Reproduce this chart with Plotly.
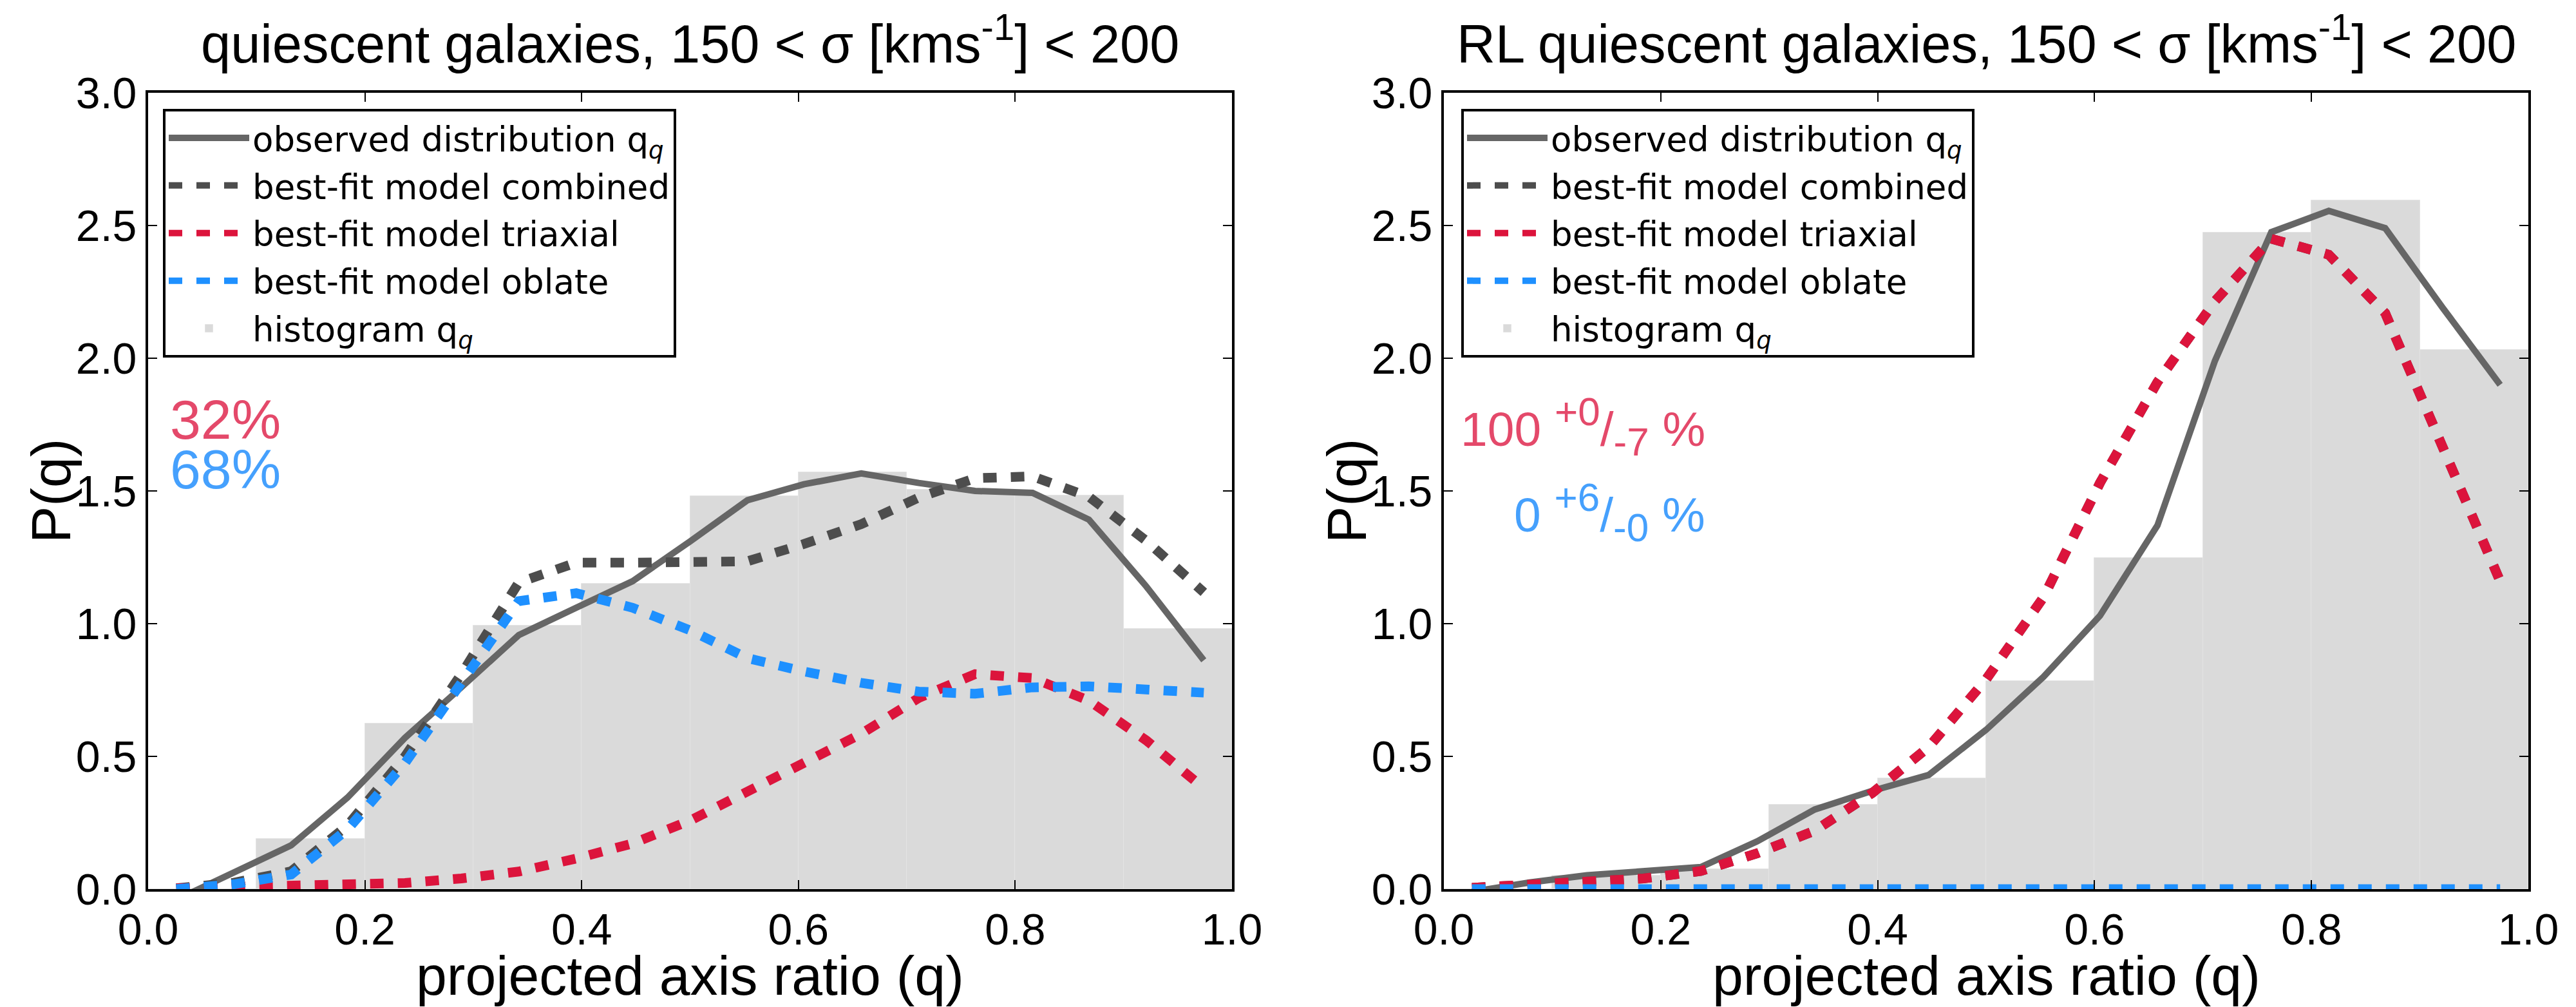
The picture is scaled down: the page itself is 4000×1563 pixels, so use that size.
import plotly.graph_objects as go

# ---------------- data ----------------
q_grid = [0.026, 0.079, 0.132, 0.184, 0.237, 0.289, 0.342, 0.395, 0.447, 0.500,
          0.553, 0.605, 0.658, 0.711, 0.763, 0.816, 0.868, 0.921, 0.974]
bin_centers = [0.05, 0.15, 0.25, 0.35, 0.45, 0.55, 0.65, 0.75, 0.85, 0.95]
bin_width = 0.1

# left panel: quiescent galaxies
hist_left = [0.0, 0.19, 0.625, 0.993, 1.15, 1.48, 1.57, 1.505, 1.483, 0.981]
obs_left = [-0.04, 0.06, 0.165, 0.345, 0.57, 0.76, 0.957, 1.06, 1.16, 1.31,
            1.465, 1.525, 1.566, 1.53, 1.50, 1.493, 1.392, 1.14, 0.862]
comb_left = [0.003, 0.024, 0.067, 0.24, 0.50, 0.81, 1.155, 1.23, 1.23, 1.233,
             1.235, 1.30, 1.375, 1.475, 1.548, 1.555, 1.478, 1.312, 1.118]
tri_left = [0.003, 0.006, 0.012, 0.016, 0.023, 0.04, 0.066, 0.115, 0.172, 0.258,
            0.365, 0.47, 0.585, 0.72, 0.81, 0.795, 0.71, 0.56, 0.38]
obl_left = [0.0, 0.018, 0.055, 0.225, 0.475, 0.77, 1.085, 1.115, 1.06, 0.975,
            0.87, 0.82, 0.777, 0.744, 0.736, 0.76, 0.764, 0.752, 0.74]

# right panel: RL quiescent galaxies
hist_right = [0.0, 0.05, 0.075, 0.319, 0.417, 0.783, 1.248, 2.473, 2.595, 2.031]
obs_right = [-0.01, 0.025, 0.052, 0.066, 0.083, 0.18, 0.30, 0.37, 0.43, 0.60,
             0.80, 1.03, 1.37, 1.99, 2.475, 2.555, 2.49, 2.19, 1.90]
tri_right = [0.005, 0.015, 0.025, 0.04, 0.068, 0.135, 0.22, 0.362, 0.535, 0.79,
             1.10, 1.53, 1.91, 2.215, 2.45, 2.39, 2.17, 1.675, 1.16]
comb_right = [0.005, 0.015, 0.025, 0.04, 0.068, 0.135, 0.22, 0.362, 0.535, 0.79,
              1.10, 1.53, 1.91, 2.215, 2.45, 2.39, 2.17, 1.675, 1.16]
obl_right = [0.0, 0.0, 0.0, 0.0, 0.0, 0.0, 0.0, 0.0, 0.0, 0.0,
             0.0, 0.0, 0.0, 0.0, 0.0, 0.0, 0.0, 0.0, 0.0]

titles = ["quiescent galaxies, 150 &lt; σ [kms<sup>-1</sup>] &lt; 200",
          "RL quiescent galaxies, 150 &lt; σ [kms<sup>-1</sup>] &lt; 200"]
names = ["observed distribution q<sub><i>q</i></sub>", "best-fit model combined",
         "best-fit model triaxial", "best-fit model oblate", "histogram q<sub><i>q</i></sub>"]
x_ticks = [0.0, 0.2, 0.4, 0.6, 0.8, 1.0]
y_ticks = [0.0, 0.5, 1.0, 1.5, 2.0, 2.5, 3.0]

# ---------------- styling ----------------
W, H = 4000, 1563
C_OBS = "#666666"
C_COMB = "#4d4d4d"
C_TRI = "#DC143C"
C_OBL = "#1E90FF"
C_HIST = "#dadada"
DASH = "21px,22px"
FONT = "Liberation Sans"

fig = go.Figure()

panels = [
    (hist_left, obs_left, comb_left, tri_left, obl_left, "x", "y", "legend"),
    (hist_right, obs_right, comb_right, tri_right, obl_right, "x2", "y2", "legend2"),
]
for k, (hist, obs, comb, tri, obl, xa, ya, lg) in enumerate(panels):
    fig.add_trace(go.Scatter(x=q_grid, y=obs, mode="lines", name=names[0],
                             line=dict(color=C_OBS, width=10), xaxis=xa, yaxis=ya,
                             legend=lg, legendgroup=f"g0{k}"))
    fig.add_trace(go.Scatter(x=q_grid, y=comb, mode="lines", name=names[1],
                             line=dict(color=C_COMB, width=15, dash=DASH), xaxis=xa, yaxis=ya,
                             legend=lg, legendgroup=f"g1{k}"))
    fig.add_trace(go.Scatter(x=q_grid, y=tri, mode="lines", name=names[2],
                             line=dict(color=C_TRI, width=15, dash=DASH), xaxis=xa, yaxis=ya,
                             legend=lg, legendgroup=f"g2{k}"))
    fig.add_trace(go.Scatter(x=q_grid, y=obl, mode="lines", name=names[3],
                             line=dict(color=C_OBL, width=15, dash=DASH), xaxis=xa, yaxis=ya,
                             legend=lg, legendgroup=f"g3{k}"))
    fig.add_trace(go.Bar(x=bin_centers, y=hist, width=bin_width, name=names[4],
                         marker=dict(color=C_HIST, line=dict(color="#e4e4e4", width=1)),
                         xaxis=xa, yaxis=ya, legend=lg, legendgroup=f"g4{k}"))

ydom = [183 / H, 1419 / H]
xdoms = [[230 / W, 1913 / W], [2242 / W, 3926 / W]]

axis_common = dict(showline=True, linecolor="black", linewidth=4, mirror="allticks",
                   ticks="inside", ticklen=14, tickwidth=2, tickcolor="black",
                   showgrid=False, zeroline=False, automargin=False,
                   tickfont=dict(family=FONT, size=68, color="black"))

layout = dict(
    template="none",
    width=W, height=H, margin=dict(l=0, r=0, t=0, b=0, autoexpand=False),
    paper_bgcolor="white", plot_bgcolor="white", showlegend=True, bargap=0,
    font=dict(family=FONT, color="black"),
)
for i, (xd, suffix) in enumerate(zip(xdoms, ["", "2"])):
    layout["xaxis" + suffix] = dict(
        domain=xd, range=[0, 1], tickvals=x_ticks, ticktext=[f"{v:.1f}" for v in x_ticks],
        anchor="y" + suffix, **axis_common)
    layout["yaxis" + suffix] = dict(
        domain=ydom, range=[0, 3], tickvals=y_ticks, ticktext=[f"{v:.1f}" for v in y_ticks],
        anchor="x" + suffix, **axis_common)

legend_common = dict(xanchor="left", yanchor="top", bordercolor="black", borderwidth=4,
                     bgcolor="white", font=dict(family="DejaVu Sans", size=53, color="black"),
                     tracegroupgap=2, itemwidth=125, traceorder="grouped")
layout["legend"] = dict(x=253 / W, y=1 - 169 / H, **legend_common)
layout["legend2"] = dict(x=2269 / W, y=1 - 169 / H, **legend_common)

fig.update_layout(**layout)

annots = []
for xd, t in zip(xdoms, titles):
    annots.append(dict(text=t, x=(xd[0] + xd[1]) / 2, y=1 - 62 / H, xref="paper", yref="paper",
                       xanchor="center", yanchor="middle", showarrow=False,
                       font=dict(family=FONT, size=83, color="black")))
    # y-axis title
    annots.append(dict(text="P(q)", x=(xd[0] * W - 151) / W, y=(ydom[0] + ydom[1]) / 2,
                       xref="paper", yref="paper", xanchor="center", yanchor="middle",
                       textangle=-90, showarrow=False,
                       font=dict(family=FONT, size=86, color="black")))
    # x-axis title
    annots.append(dict(text="projected axis ratio (q)", x=(xd[0] + xd[1]) / 2, y=1 - 1514 / H,
                       xref="paper", yref="paper", xanchor="center", yanchor="middle",
                       showarrow=False, font=dict(family=FONT, size=86, color="black")))

RED_T = "#e4496a"
BLUE_T = "#45a0fd"
annots.append(dict(text="32%", x=262 / W, y=1 - 651 / H, xref="paper", yref="paper",
                   xanchor="left", yanchor="middle", showarrow=False,
                   font=dict(family=FONT, size=86, color=RED_T)))
annots.append(dict(text="68%", x=262 / W, y=1 - 728 / H, xref="paper", yref="paper",
                   xanchor="left", yanchor="middle", showarrow=False,
                   font=dict(family=FONT, size=86, color=BLUE_T)))
annots.append(dict(text='100 <sup><span style="font-size:62px">+0</span></sup>/'
                        '<sub><span style="font-size:62px">-7</span></sub> %',
                   x=2650 / W, y=1 - 662 / H,
                   xref="paper", yref="paper", xanchor="right", yanchor="middle", showarrow=False,
                   font=dict(family=FONT, size=75, color=RED_T)))
annots.append(dict(text='0 <sup><span style="font-size:62px">+6</span></sup>/'
                        '<sub><span style="font-size:62px">-0</span></sub> %',
                   x=2650 / W, y=1 - 795 / H,
                   xref="paper", yref="paper", xanchor="right", yanchor="middle", showarrow=False,
                   font=dict(family=FONT, size=75, color=BLUE_T)))
fig.update_layout(annotations=annots)

fig.write_html("out.html")
